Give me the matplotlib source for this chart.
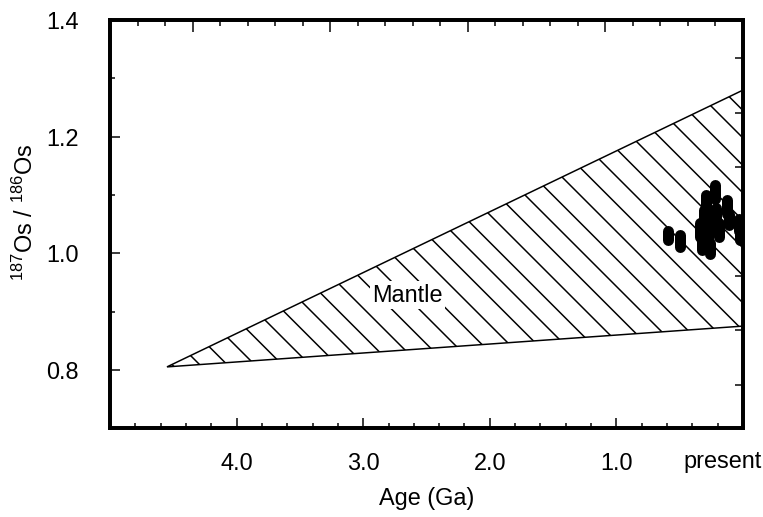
import matplotlib
matplotlib.use("Agg")
import matplotlib.pyplot as plt
import numpy as np
from matplotlib.patches import Polygon
from matplotlib.ticker import MultipleLocator, FixedLocator, NullFormatter

DPI = 165


def px(n):
    # pixel size -> points at the chosen dpi
    return n * 72.0 / DPI


plt.rcParams["font.family"] = ["Liberation Sans", "DejaVu Sans"]
plt.rcParams["mathtext.default"] = "regular"
plt.rcParams["hatch.linewidth"] = px(1.5)

# Mantle evolution field: age (Ga) and 187Os/186Os at the corners
mantle_age = [4.55, 0.0, 0.0]
mantle_ratio = [0.805, 1.28, 0.875]

# Samples: age (Ga), 187Os/186Os and half-height of the blob
sample_age = [0.59, 0.50, 0.34, 0.32, 0.31, 0.29, 0.28, 0.26, 0.22,
              0.21, 0.19, 0.13, 0.11, 0.03, 0.02]
sample_ratio = [1.030, 1.021, 1.040, 1.020, 1.060, 1.088, 1.045, 1.008,
                1.105, 1.062, 1.040, 1.080, 1.058, 1.048, 1.035]
sample_err = [0.008, 0.010, 0.012, 0.015, 0.015, 0.012, 0.020, 0.010,
              0.012, 0.015, 0.012, 0.012, 0.010, 0.010, 0.012]

age_ticks = [4.0, 3.0, 2.0, 1.0]
age_labels = ["4.0", "3.0", "2.0", "1.0"]
ratio_ticks = [0.8, 1.0, 1.2, 1.4]
ratio_labels = ["0.8", "1.0", "1.2", "1.4"]

FS = px(23.5)

fig = plt.figure(figsize=(764 / DPI, 517 / DPI), dpi=DPI)
ax = fig.add_axes([0.144, 0.172, 0.8285, 0.789])

# hatched mantle field
field = Polygon(np.column_stack([mantle_age, mantle_ratio]), closed=True,
                facecolor="white", edgecolor="black", hatch="\\\\",
                linewidth=px(1.5))
ax.add_patch(field)

ax.text(2.65, 0.928, "Mantle", fontsize=FS, ha="center", va="center",
        bbox=dict(facecolor="white", edgecolor="none", pad=1))

# samples as black oblong blobs
lc = ax.vlines(sample_age, np.array(sample_ratio) - np.array(sample_err),
               np.array(sample_ratio) + np.array(sample_err),
               colors="black", linewidth=px(11), zorder=5)
lc.set_capstyle("round")

ax.set_xlim(5.0, 0.0)
ax.set_ylim(0.7, 1.4)

ax.set_xticks(age_ticks)
ax.set_xticklabels(age_labels)
ax.xaxis.set_minor_locator(MultipleLocator(0.2))
ax.set_yticks(ratio_ticks)
ax.set_yticklabels(ratio_labels)
ax.yaxis.set_minor_locator(MultipleLocator(0.1))

ax.tick_params(axis="x", which="both", direction="in", top=False,
               labelsize=FS, pad=px(24))
ax.tick_params(axis="y", which="both", direction="in", right=False,
               labelsize=FS, pad=px(31))
ax.tick_params(which="major", length=px(10), width=px(1.5))
ax.tick_params(which="minor", length=px(5), width=px(1.5))

ax.text(0.16, -0.083, "present", transform=ax.get_xaxis_transform(),
        fontsize=FS, ha="center", va="center")

ax.set_xlabel("Age (Ga)", fontsize=FS)
ax.xaxis.set_label_coords(0.5, -0.145)
ax.set_ylabel("$^{187}$Os / $^{186}$Os", fontsize=FS)
ax.yaxis.set_label_coords(-0.114, 0.53)

# extra tick scales on top and right spines
top = ax.twiny()
top.set_xlim(4.6, 0.0)
top.xaxis.set_major_locator(MultipleLocator(1.0))
top.xaxis.set_minor_locator(MultipleLocator(0.2))
top.xaxis.set_major_formatter(NullFormatter())
top.tick_params(axis="x", which="both", direction="in")
top.tick_params(which="major", length=px(12), width=px(1.5))
top.tick_params(which="minor", length=px(6), width=px(1.5))

right = ax.twinx()
right.set_ylim(0.0, 7.5)
right.yaxis.set_major_locator(FixedLocator(np.arange(0.8, 7.5, 1.0)))
right.yaxis.set_major_formatter(NullFormatter())
right.tick_params(axis="y", which="both", direction="in", length=px(8),
                  width=px(1.5))

for a in (ax, top, right):
    for s in a.spines.values():
        s.set_linewidth(px(3.5))

fig.savefig("out.png", dpi=DPI)
